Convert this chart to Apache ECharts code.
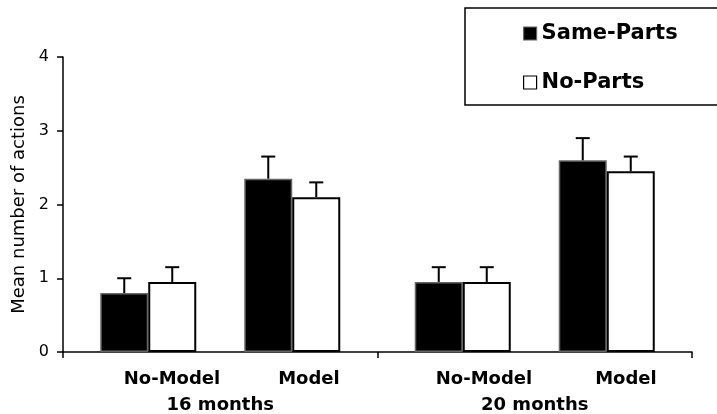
<!DOCTYPE html>
<html>
<head>
<meta charset="utf-8">
<script src="https://cdn.jsdelivr.net/npm/echarts@6/dist/echarts.min.js"></script>
<style>html,body{margin:0;padding:0;background:#fff}#c{width:717px;height:414px}</style>
</head>
<body>
<div id="c"></div>
<script>
// ---- data ----
const groups = ['16 months', '20 months'];
const subCategories = ['No-Model', 'Model'];
const seriesNames = ['Same-Parts', 'No-Parts'];
const yTicks = [0, 1, 2, 3, 4];
// means per group [16 months, 20 months]
const sameNoModel = [0.80, 0.95];
const noPartsNoModel = [0.95, 0.95];
const sameModel = [2.35, 2.60];
const noPartsModel = [2.10, 2.45];
// upper error bar lengths
const errSameNoModel = [0.20, 0.20];
const errNoPartsNoModel = [0.20, 0.20];
const errSameModel = [0.30, 0.30];
const errNoPartsModel = [0.20, 0.20];

// ---- layout/styles ----
const BAR_W = 48;
const FONT = 'DejaVu Sans';
const blackStyle = { color: '#000', borderColor: '#666', borderWidth: 1.5 };
const whiteStyle = { color: '#fff', borderColor: '#000', borderWidth: 2 };

function errSeries(means, errs, slot) {
  const offset = (slot - 2) * BAR_W;
  return {
    type: 'custom', z: 5, silent: true,
    data: means.map((m, i) => [i, m, errs[i]]),
    encode: { x: 0, y: 1 },
    renderItem: function (params, api) {
      const c = api.value(0);
      const x = api.coord([c, 0])[0] + offset;
      const yb = api.coord([c, api.value(1)])[1];
      const yt = api.coord([c, api.value(1) + api.value(2)])[1];
      const st = { stroke: '#000', lineWidth: 2 };
      return { type: 'group', children: [
        { type: 'line', shape: { x1: x, y1: yb, x2: x, y2: yt }, style: st },
        { type: 'line', shape: { x1: x - 7, y1: yt, x2: x + 7, y2: yt }, style: st }
      ]};
    }
  };
}

const chart = echarts.init(document.getElementById('c'));
chart.setOption({
  animation: false,
  backgroundColor: '#fff',
  grid: { left: 63, right: 25, top: 57, bottom: 62 },
  legend: {
    data: seriesNames,
    orient: 'vertical',
    left: 465, top: 8,
    padding: [15, 60, 12, 58],
    itemGap: 28,
    icon: 'rect',
    itemWidth: 13, itemHeight: 13,
    itemStyle: { borderWidth: 1.2 },
    borderColor: '#000', borderWidth: 1.5,
    selectedMode: false,
    textStyle: { fontFamily: FONT, fontWeight: 'bold', fontSize: 21, color: '#000' }
  },
  xAxis: {
    type: 'category',
    data: groups,
    axisLine: { lineStyle: { color: '#000', width: 1.5 } },
    axisTick: { show: true, length: 6, lineStyle: { color: '#000', width: 1.5 } },
    axisLabel: {
      margin: 14,
      interval: 0,
      formatter: function (v, i) {
        return '{a|' + subCategories[0] + '}{' + (i === 0 ? 'b' : 'b2') + '|' + subCategories[1] + '}\n{c|' + v + '}';
      },
      rich: {
        a: { fontFamily: FONT, fontWeight: 'bold', fontSize: 18, color: '#000', lineHeight: 26, padding: [0, 0, 0, 23] },
        b: { fontFamily: FONT, fontWeight: 'bold', fontSize: 18, color: '#000', lineHeight: 26, padding: [0, 0, 0, 58] },
        b2: { fontFamily: FONT, fontWeight: 'bold', fontSize: 18, color: '#000', lineHeight: 26, padding: [0, 0, 0, 63] },
        c: { fontFamily: FONT, fontWeight: 'bold', fontSize: 18, color: '#000', lineHeight: 26 }
      }
    }
  },
  yAxis: {
    type: 'value',
    min: yTicks[0], max: yTicks[yTicks.length - 1], interval: 1,
    name: 'Mean number of actions',
    nameLocation: 'middle', nameRotate: 90, nameGap: 32,
    nameTextStyle: { fontFamily: FONT, fontSize: 18, color: '#000' },
    axisLine: { show: true, lineStyle: { color: '#000', width: 1.5 } },
    axisTick: { show: true, length: 6, lineStyle: { color: '#000', width: 1.5 } },
    splitLine: { show: false },
    axisLabel: { margin: 14, fontFamily: FONT, fontSize: 16, color: '#000' }
  },
  series: [
    { type: 'bar', name: seriesNames[0], data: sameNoModel, barWidth: BAR_W, barGap: '0%', itemStyle: blackStyle },
    { type: 'bar', name: seriesNames[1], data: noPartsNoModel, barWidth: BAR_W, barGap: '0%', itemStyle: whiteStyle },
    { type: 'bar', name: 'spacer', data: [null, null], barWidth: BAR_W, barGap: '0%', silent: true, itemStyle: { color: 'transparent' } },
    { type: 'bar', name: seriesNames[0], data: sameModel, barWidth: BAR_W, barGap: '0%', itemStyle: blackStyle },
    { type: 'bar', name: seriesNames[1], data: noPartsModel, barWidth: BAR_W, barGap: '0%', itemStyle: whiteStyle },
    errSeries(sameNoModel, errSameNoModel, 0),
    errSeries(noPartsNoModel, errNoPartsNoModel, 1),
    errSeries(sameModel, errSameModel, 3),
    errSeries(noPartsModel, errNoPartsModel, 4)
  ]
});
</script>
</body>
</html>
